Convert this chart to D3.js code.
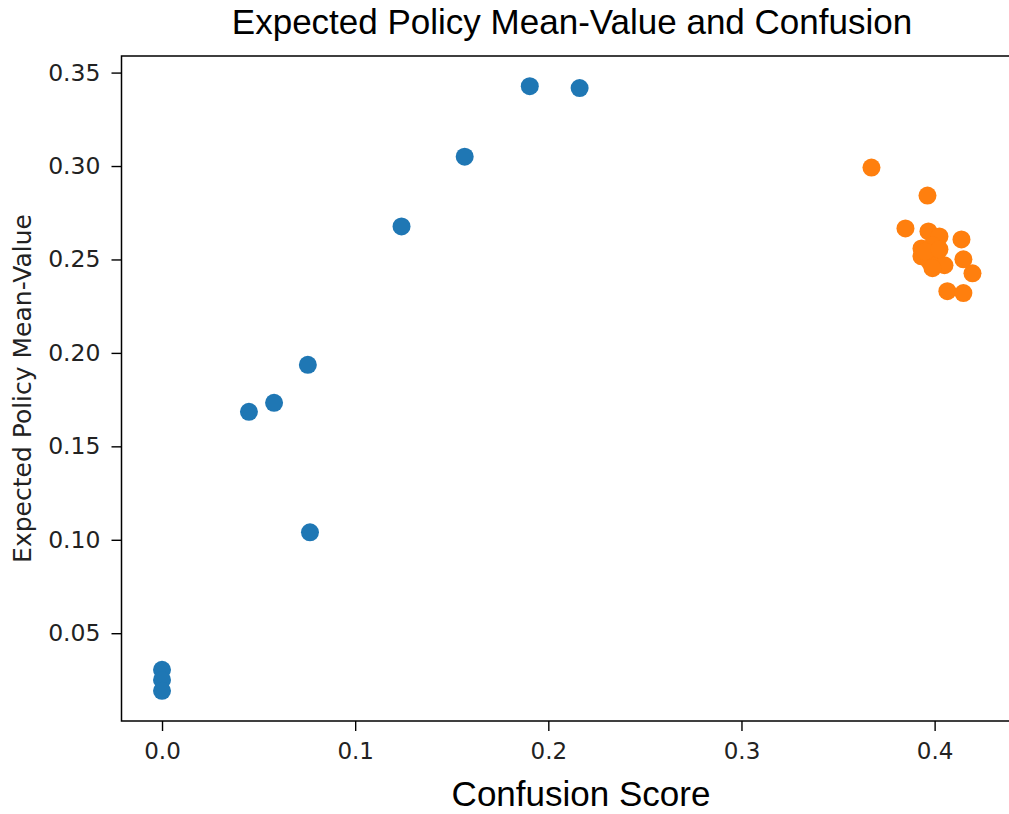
<!DOCTYPE html>
<html>
<head>
<meta charset="utf-8">
<script src="https://cdn.jsdelivr.net/npm/d3@7"></script>
<style>
  body { margin: 0; background: #fff; }
  svg { display: block; }
</style>
</head>
<body>
<div id="chart"></div>
<script>
// Data
var blueX = [0, 0, 0, 0.045, 0.058, 0.0755, 0.0766, 0.124, 0.1567, 0.1904, 0.2162];
var blueY = [0.0304, 0.0250, 0.0192, 0.1685, 0.1733, 0.1936, 0.1040, 0.2677, 0.3050, 0.3427, 0.3417];

var orangeX = [0.3673, 0.3963, 0.3849, 0.3968, 0.4025, 0.4139, 0.3932, 0.3989, 0.3932, 0.4009,
               0.3973, 0.4051, 0.3989, 0.4149, 0.4196, 0.4066, 0.4149, 0.3952, 0.4025];
var orangeY = [0.2992, 0.2842, 0.2666, 0.2650, 0.2623, 0.2607, 0.2559, 0.2575, 0.2517, 0.2527,
               0.2490, 0.2469, 0.2453, 0.2501, 0.2426, 0.2330, 0.2320, 0.2543, 0.2554];

var xTicks = [0.0, 0.1, 0.2, 0.3, 0.4];
var yTicks = [0.05, 0.10, 0.15, 0.20, 0.25, 0.30, 0.35];

var titleText = "Expected Policy Mean-Value and Confusion";
var xLabel = "Confusion Score";
var yLabel = "Expected Policy Mean-Value";

// Chart dimensions
var svgWidth = 1009;
var svgHeight = 814;
var margin = { top: 56, right: -4, bottom: 93, left: 121.5 };
var width = svgWidth - margin.left - margin.right;
var height = svgHeight - margin.top - margin.bottom;

var svg = d3.select("#chart")
  .append("svg")
  .attr("width", svgWidth)
  .attr("height", svgHeight);

var chartGroup = svg.append("g")
  .attr("transform", `translate(${margin.left}, ${margin.top})`);

// Scales (matplotlib-style 5% padding)
var allX = blueX.concat(orangeX);
var allY = blueY.concat(orangeY);
var xMin = d3.min(allX), xMax = d3.max(allX);
var yMin = d3.min(allY), yMax = d3.max(allY);
var xPad = (xMax - xMin) * 0.05, yPad = (yMax - yMin) * 0.05;

var xScale = d3.scaleLinear()
  .domain([xMin - xPad, xMax + xPad])
  .range([0, width]);

var yScale = d3.scaleLinear()
  .domain([yMin - yPad, yMax + yPad])
  .range([height, 0]);

// Axes
var bottomAxis = d3.axisBottom(xScale)
  .tickValues(xTicks)
  .tickFormat(d3.format(".1f"))
  .tickSize(10)
  .tickPadding(12);

var leftAxis = d3.axisLeft(yScale)
  .tickValues(yTicks)
  .tickFormat(d3.format(".2f"))
  .tickSize(10)
  .tickPadding(11);

var xAxisG = chartGroup.append("g")
  .attr("transform", `translate(0, ${height})`)
  .call(bottomAxis);
xAxisG.select(".domain").remove();
xAxisG.selectAll("line").attr("stroke", "#000").attr("stroke-width", 1.4);
xAxisG.selectAll("text")
  .attr("fill", "#222")
  .style("font-family", "'DejaVu Sans', sans-serif")
  .style("font-size", "23px");

var yAxisG = chartGroup.append("g").call(leftAxis);
yAxisG.select(".domain").remove();
yAxisG.selectAll("line").attr("stroke", "#000").attr("stroke-width", 1.4);
yAxisG.selectAll("text")
  .attr("fill", "#222")
  .style("font-family", "'DejaVu Sans', sans-serif")
  .style("font-size", "23.5px");

// Frame
chartGroup.append("rect")
  .attr("x", 0)
  .attr("y", 0)
  .attr("width", width)
  .attr("height", height)
  .attr("fill", "none")
  .attr("stroke", "#000")
  .attr("stroke-width", 1.5);

// Points
chartGroup.selectAll("circle.blue")
  .data(d3.zip(blueX, blueY))
  .enter()
  .append("circle")
  .attr("class", "blue")
  .attr("cx", d => xScale(d[0]))
  .attr("cy", d => yScale(d[1]))
  .attr("r", 9)
  .attr("fill", "#1f77b4");

chartGroup.selectAll("circle.orange")
  .data(d3.zip(orangeX, orangeY))
  .enter()
  .append("circle")
  .attr("class", "orange")
  .attr("cx", d => xScale(d[0]))
  .attr("cy", d => yScale(d[1]))
  .attr("r", 9)
  .attr("fill", "#ff7f0e");

// Labels
svg.append("text")
  .attr("x", 572)
  .attr("y", 34)
  .attr("text-anchor", "middle")
  .style("font-family", "'Liberation Sans', Arial, sans-serif")
  .style("font-size", "35px")
  .text(titleText);

svg.append("text")
  .attr("x", 581)
  .attr("y", 806)
  .attr("text-anchor", "middle")
  .style("font-family", "'Liberation Sans', Arial, sans-serif")
  .style("font-size", "35px")
  .text(xLabel);

svg.append("text")
  .attr("transform", "rotate(-90)")
  .attr("x", -(margin.top + height / 2))
  .attr("y", 31)
  .attr("text-anchor", "middle")
  .attr("fill", "#222")
  .style("font-family", "'DejaVu Sans', sans-serif")
  .style("font-size", "25px")
  .text(yLabel);
</script>
</body>
</html>
